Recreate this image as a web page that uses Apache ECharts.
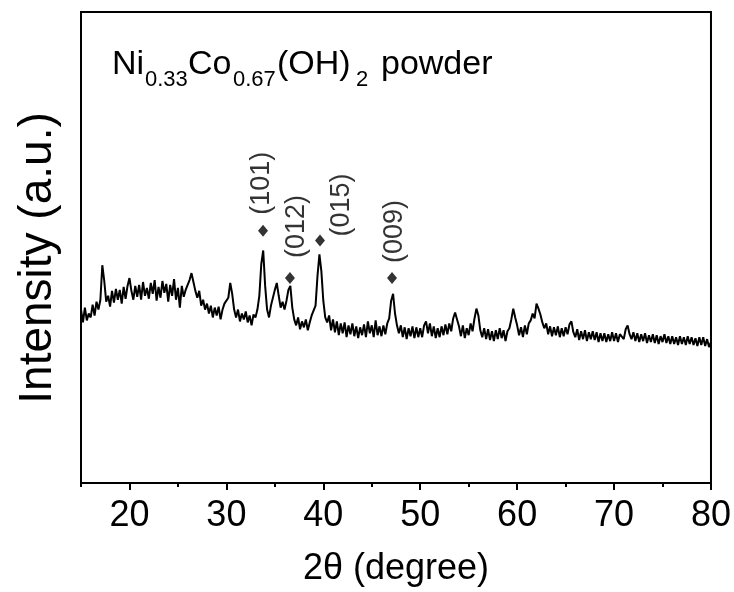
<!DOCTYPE html>
<html>
<head>
<meta charset="utf-8">
<script src="https://cdn.jsdelivr.net/npm/echarts@6/dist/echarts.min.js"></script>
<style>html,body{margin:0;padding:0;background:#fff;}#chart{width:734px;height:592px;}</style>
</head>
<body>
<div id="chart"></div>
<script>
// Scan grid: 15.0 to 80.0 degrees, 0.2 degree step
const scanStart = 15.0;
const scanStep = 0.2;
// Intensity (arbitrary units), one value per scan step
const intensity = [
  176,163,178,165,172, 168,181,170,184,176, 186,221,205,184,190, 179,195,183,197,186,
  196,182,199,187,200, 208,195,186,200,189, 201,186,204,190,198, 187,203,192,206,185,
  199,188,205,193,202, 184,201,190,207,186, 198,178,200,189,196, 198,206,213,204,195,
  188,195,180,186,176, 182,172,180,168,178, 170,179,166,176,182, 180,188,203,192,176,
  168,176,164,172,166, 174,163,170,160,171, 168,176,190,222,236, 200,176,168,180,188,
  196,203,190,178,184, 176,185,196,200,178, 166,160,168,156,164, 158,166,155,163,170,
  168,180,210,232,215, 185,168,163,170,155, 166,153,164,150,162, 152,163,148,160,151,
  162,149,159,147,158, 150,161,148,164,152, 160,148,165,150,159, 149,160,151,162,167,
  185,192,172,160,152, 160,148,158,146,157, 149,159,147,158,148, 157,148,160,164,152,
  162,149,159,147,157, 148,159,150,161,151, 162,154,167,173,166, 159,149,160,147,157,
  150,162,154,167,177, 170,155,148,157,146, 156,145,154,144,155, 146,157,147,155,144,
  154,157,166,177,168, 160,150,158,148,160, 151,162,165,172,167, 182,177,171,163,157,
  162,151,159,149,158, 150,159,148,157,149, 158,151,161,164,153, 148,156,145,154,146,
  155,144,153,146,154, 145,153,143,152,144, 152,143,151,144,153, 144,152,143,151,153,
  146,156,160,151,146, 153,144,152,143,151, 144,152,142,150,143, 151,142,150,141,149,
  143,151,142,149,141, 149,141,148,140,149, 141,148,140,149,141, 148,140,147,139,148,
  140,148,139,146,138, 143
];
// Peak markers (diamonds) and Miller indices
const peakAngles = [33.78, 36.56, 39.66, 47.09];
const peakMarkHeights = [256, 208, 246, 208];
const peakLabels = ['(101)', '(012)', '(015)', '(009)'];
// Axis ticks
const majorTicks = [20, 30, 40, 50, 60, 70, 80];
const minorTicks = [15, 25, 35, 45, 55, 65, 75];
const xTitle = '2\u03b8 (degree)';
const yTitle = 'Intensity (a.u.)';
// Panel title pieces: [text, isSubscript]
const titleParts = [['Ni', 0], ['0.33', 1], ['Co', 0], ['0.67', 1], ['(OH)', 0], ['2', 1], ['powder', 0]];

const FONT = '"Liberation Sans", Arial, sans-serif';
const linePoints = intensity.map((v, i) => [+(scanStart + i * scanStep).toFixed(2), v]);
const labelOffsets = [[0, -1], [0, 7], [-2, 22], [0, 3]];
const labelDist = [10, 14, 0, 9];
const markPoints = peakAngles.map((a, i) => ({
  value: [a, peakMarkHeights[i]],
  label: { offset: labelOffsets[i], distance: labelDist[i] }
}));
const titleX = [112, 145, 188, 233, 277, 356, 381];
const titleGraphics = titleParts.map((p, i) => ({
  type: 'text', x: titleX[i], y: p[1] ? 80 : 65,
  style: { text: p[0], font: (p[1] ? '22px ' : '34px ') + FONT, fill: '#000', align: 'left', verticalAlign: 'middle' }
}));

const chart = echarts.init(document.getElementById('chart'), null, { renderer: 'canvas' });
chart.setOption({
  animation: false,
  backgroundColor: '#fff',
  grid: { left: 81, right: 23, top: 12, bottom: 102, show: true, borderColor: '#000', borderWidth: 2, backgroundColor: 'transparent' },
  xAxis: [{
    type: 'value', min: 15, max: 80,
    name: xTitle, nameLocation: 'middle', nameGap: 68,
    nameTextStyle: { fontFamily: FONT, fontSize: 36, color: '#000' },
    axisLine: { show: true, lineStyle: { color: '#000', width: 2 } },
    axisTick: { show: true, inside: false, length: 7, lineStyle: { color: '#000', width: 2 }, customValues: majorTicks },
    axisLabel: { show: true, fontFamily: FONT, fontSize: 36, color: '#000', margin: 15, customValues: majorTicks },
    splitLine: { show: false }
  }, {
    type: 'value', min: 15, max: 80, position: 'bottom',
    axisLine: { show: false },
    axisTick: { show: true, inside: false, length: 4, lineStyle: { color: '#000', width: 2 }, customValues: minorTicks },
    axisLabel: { show: false },
    splitLine: { show: false }
  }],
  yAxis: {
    type: 'value', min: 0, max: 478,
    axisLine: { show: true, lineStyle: { color: '#000', width: 2 } },
    axisTick: { show: false }, axisLabel: { show: false }, splitLine: { show: false }
  },
  graphic: titleGraphics.concat([{
    type: 'text', x: 38, y: 258, rotation: Math.PI / 2,
    style: { text: yTitle, font: '46px ' + FONT, fill: '#000', align: 'center', verticalAlign: 'middle' }
  }]),
  series: [{
    type: 'line', data: linePoints, showSymbol: false, symbol: 'none',
    lineStyle: { color: '#000', width: 2 }, silent: true, z: 2
  }, {
    type: 'scatter', data: markPoints, symbol: 'diamond', symbolSize: [10, 12],
    itemStyle: { color: '#000' }, z: 3,
    label: {
      show: true, position: 'top', rotate: 90, align: 'left', verticalAlign: 'middle',
      fontFamily: FONT, fontSize: 27, color: '#000',
      formatter: p => peakLabels[p.dataIndex]
    }
  }]
});
</script>
</body>
</html>
